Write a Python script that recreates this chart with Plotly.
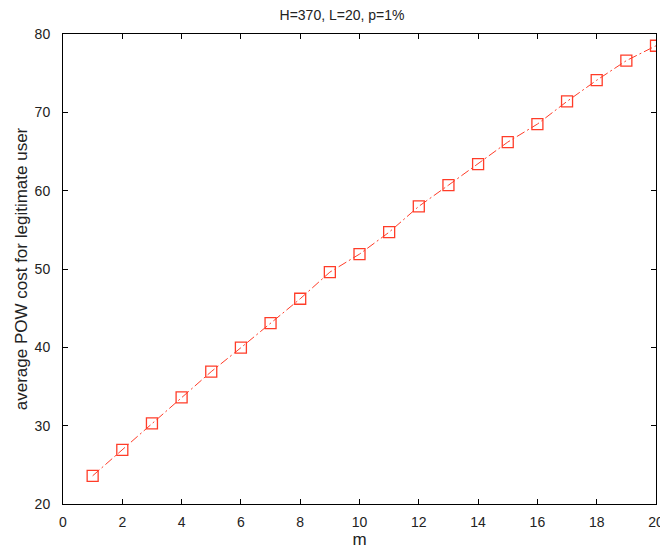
import plotly.graph_objects as go

m_values = list(range(1, 21))
pow_cost = [23.6, 26.9, 30.3, 33.6, 36.9, 39.95, 43.1, 46.2, 49.6, 51.9,
            54.7, 58.0, 60.7, 63.4, 66.2, 68.5, 71.4, 74.1, 76.6, 78.5]
x_ticks = [0, 2, 4, 6, 8, 10, 12, 14, 16, 18, 20]
y_ticks = [20, 30, 40, 50, 60, 70, 80]

red = "#ff3c28"
fig = go.Figure()
fig.add_trace(go.Scatter(
    x=m_values, y=pow_cost, mode="lines+markers",
    line=dict(color=red, width=1, dash="9px,3px,2px,3px"),
    marker=dict(symbol="square-open", size=11, color=red, line=dict(width=1.3, color=red)),
    showlegend=False,
))

font = dict(family="Liberation Sans, Arial, sans-serif", size=14, color="#222")
axis_common = dict(showgrid=False, zeroline=False, showline=True, linecolor="black",
                   linewidth=1, mirror="ticks", ticks="inside", ticklen=5,
                   tickcolor="black", tickfont=font)
fig.update_layout(
    width=668, height=554,
    margin=dict(l=55, r=17, t=26, b=58),
    paper_bgcolor="white", plot_bgcolor="white",
    font=font,
    title=dict(text="H=370, L=20, p=1%", x=0.5, xanchor="center", y=0.988, yanchor="middle",
               font=dict(family="Liberation Sans, Arial, sans-serif", size=14, color="#222")),
    xaxis=dict(range=[0, 20], tickvals=x_ticks, ticklabelstandoff=5,
               title=dict(text="m", standoff=4), **axis_common),
    yaxis=dict(range=[20, 80], tickvals=y_ticks, ticklabelstandoff=9,
               title=dict(text="average POW cost for legitimate user", standoff=2), **axis_common),
)
fig.write_html("out.html")
